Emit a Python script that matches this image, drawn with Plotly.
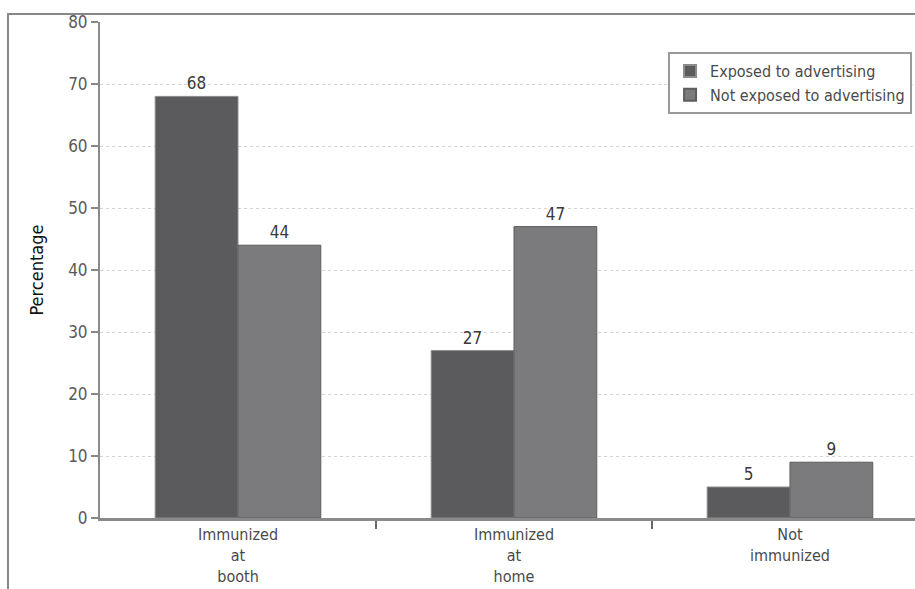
import plotly.graph_objects as go

# Immunization place by exposure to advertising
categories = ["Immunized<br>at<br>booth", "Immunized<br>at<br>home", "Not<br>immunized"]
exposed = [68, 27, 5]
not_exposed = [44, 47, 9]
series_names = ["Exposed to advertising", "Not exposed to advertising"]
y_ticks = [0, 10, 20, 30, 40, 50, 60, 70, 80]

FONT = "DejaVu Sans Condensed, Liberation Sans Narrow, Arial Narrow, sans-serif"
DARK = "#5b5b5d"
LIGHT = "#7b7b7d"

x_pos = list(range(len(categories)))

fig = go.Figure()
fig.add_trace(go.Bar(
    x=x_pos, y=exposed, name=series_names[0],
    marker=dict(color=DARK, line=dict(color="#8c8c8c", width=1)),
    text=[str(v) for v in exposed], textposition="outside",
    textfont=dict(family=FONT, size=17, color="#3a3a3a"), cliponaxis=False,
))
fig.add_trace(go.Bar(
    x=x_pos, y=not_exposed, name=series_names[1],
    marker=dict(color=LIGHT, line=dict(color="#5e5e5e", width=1)),
    text=[str(v) for v in not_exposed], textposition="outside",
    textfont=dict(family=FONT, size=17, color="#3a3a3a"), cliponaxis=False,
))

fig.update_layout(
    width=915, height=589,
    margin=dict(l=100, r=0, t=22, b=71),
    paper_bgcolor="white", plot_bgcolor="white",
    barmode="group", bargap=0.4, bargroupgap=0,
    font=dict(family=FONT, color="#555"),
    showlegend=True,
    legend=dict(
        x=0.697, y=0.9395, xanchor="left", yanchor="top",
        bgcolor="white", bordercolor="#9a9a9a", borderwidth=2,
        font=dict(family=FONT, size=16, color="#4a4a4a"),
        itemsizing="constant", tracegroupgap=4,
    ),
    xaxis=dict(
        range=[-0.5, 2.453], automargin=False,
        tickmode="array", tickvals=x_pos, ticktext=categories,
        ticks="", showgrid=False, zeroline=False,
        showline=True, linecolor="#8a8a8a", linewidth=3,
        ticklabelstandoff=0,
        tickfont=dict(family=FONT, size=16, color="#4a4a4a"),
        minor=dict(tickmode="array", tickvals=[0.5, 1.5], ticks="outside",
                   ticklen=8, tickwidth=2, tickcolor="#666", showgrid=False),
    ),
    yaxis=dict(
        range=[0, 80], tickmode="array", tickvals=y_ticks, automargin=False,
        ticks="outside", ticklen=7, tickwidth=2, tickcolor="#888",
        showline=True, linecolor="#8a8a8a", linewidth=2,
        showgrid=True, gridcolor="#d4d4d4", griddash="dot", gridwidth=1,
        zeroline=False,
        tickfont=dict(family=FONT, size=17, color="#5a5a5a"),
        title=dict(text="Percentage", standoff=20,
                   font=dict(family=FONT, size=18, color="#111")),
    ),
    shapes=[dict(
        type="rect", xref="paper", yref="paper",
        x0=-0.1129, x1=1.2, y0=-0.3, y1=1.016,
        line=dict(color="#888", width=2), layer="below",
    )],
)

fig.write_html("out.html")
